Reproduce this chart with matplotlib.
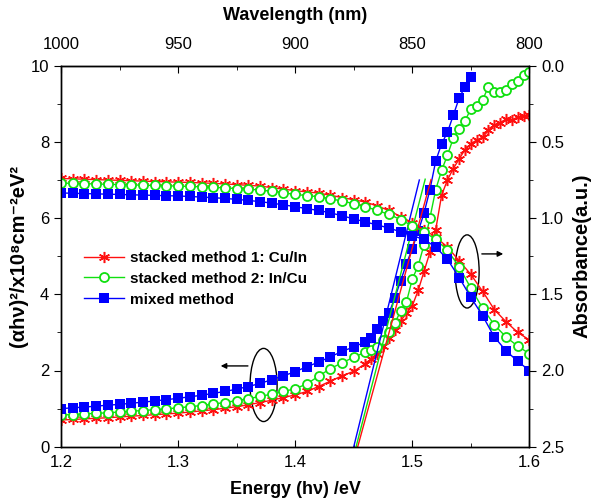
import numpy as np
import matplotlib.pyplot as plt
from matplotlib.patches import Ellipse

plt.rcParams['font.family'] = ['Liberation Sans', 'DejaVu Sans']

# Tauc plot data, (alpha h nu)^2 in 1e8 cm^-2 eV^2
e_flat = [1.20, 1.21, 1.22, 1.23, 1.24, 1.25, 1.26, 1.27, 1.28, 1.29,
          1.30, 1.31, 1.32, 1.33, 1.34, 1.35, 1.36, 1.37, 1.38, 1.39,
          1.40, 1.41, 1.42, 1.43, 1.44, 1.45, 1.46]
e_steep = [1.465, 1.47, 1.475, 1.48, 1.485, 1.49, 1.495, 1.50, 1.505, 1.51,
           1.515, 1.52, 1.525, 1.53, 1.535, 1.54, 1.545, 1.55, 1.555, 1.56,
           1.565, 1.57, 1.575, 1.58, 1.585, 1.59, 1.595, 1.60]
energy_tauc = e_flat + e_steep

tauc_stack1 = [0.70, 0.715, 0.73, 0.745, 0.76, 0.78, 0.80, 0.82, 0.84, 0.86,
               0.88, 0.91, 0.94, 0.97, 1.01, 1.05, 1.10, 1.16, 1.22, 1.29,
               1.36, 1.45, 1.58, 1.72, 1.86, 1.98, 2.18,
               2.30, 2.42, 2.65, 2.85, 3.05, 3.30, 3.50, 3.70, 4.10, 4.60,
               5.10, 5.70, 6.60, 7.00, 7.30, 7.55, 7.80, 7.95, 8.05, 8.12,
               8.30, 8.44, 8.50, 8.60, 8.58, 8.65, 8.68, 8.70]
tauc_stack2 = [0.83, 0.845, 0.86, 0.875, 0.89, 0.91, 0.93, 0.95, 0.97, 0.995,
               1.02, 1.05, 1.08, 1.12, 1.16, 1.21, 1.26, 1.32, 1.38, 1.45,
               1.52, 1.65, 1.85, 2.05, 2.20, 2.35, 2.48,
               2.55, 2.62, 2.80, 3.00, 3.25, 3.55, 3.80, 4.40, 4.75, 5.30,
               6.00, 6.75, 7.25, 7.65, 8.10, 8.35, 8.55, 8.87, 8.95, 9.10,
               9.45, 9.30, 9.30, 9.35, 9.52, 9.60, 9.75, 9.83]
tauc_mixed = [1.00, 1.02, 1.04, 1.065, 1.09, 1.11, 1.14, 1.17, 1.20, 1.235,
              1.27, 1.31, 1.35, 1.40, 1.45, 1.51, 1.58, 1.66, 1.76, 1.86,
              1.97, 2.10, 2.22, 2.36, 2.50, 2.62, 2.75,
              2.85, 3.10, 3.30, 3.50, 3.90, 4.35, 4.80, 5.20, 5.65, 6.13,
              6.74, 7.50, 7.95, 8.25, 8.70, 9.15, 9.45, 9.70]

# linear fits to the absorption edge: (intercept energy, end energy, slope)
fit_mixed = (1.450, 1.506, 125)
fit_stack2 = (1.452, 1.511, 119)
fit_stack1 = (1.4534, 1.516, 112)

# Absorbance data (right axis)
energy_abs = [1.20, 1.21, 1.22, 1.23, 1.24, 1.25, 1.26, 1.27, 1.28, 1.29,
              1.30, 1.31, 1.32, 1.33, 1.34, 1.35, 1.36, 1.37, 1.38, 1.39,
              1.40, 1.41, 1.42, 1.43, 1.44, 1.45, 1.46, 1.47, 1.48, 1.49,
              1.50, 1.51, 1.52, 1.53, 1.54, 1.55, 1.56, 1.57, 1.58, 1.59, 1.60]
abs_stack1 = [0.740, 0.742, 0.745, 0.747, 0.750, 0.752, 0.755, 0.757, 0.760, 0.762,
              0.764, 0.766, 0.769, 0.772, 0.776, 0.780, 0.785, 0.790, 0.800, 0.810,
              0.820, 0.828, 0.836, 0.850, 0.865, 0.880, 0.895, 0.920, 0.950, 0.990,
              1.030, 1.075, 1.125, 1.190, 1.280, 1.370, 1.480, 1.600, 1.680, 1.750, 1.800]
abs_stack2 = [0.770, 0.772, 0.774, 0.776, 0.778, 0.780, 0.782, 0.784, 0.786, 0.788,
              0.790, 0.792, 0.795, 0.798, 0.802, 0.806, 0.810, 0.816, 0.824, 0.834,
              0.845, 0.852, 0.860, 0.873, 0.888, 0.905, 0.925, 0.950, 0.975, 1.010,
              1.050, 1.090, 1.140, 1.210, 1.320, 1.460, 1.590, 1.700, 1.780, 1.840, 1.890]
abs_mixed = [0.835, 0.837, 0.839, 0.841, 0.843, 0.845, 0.847, 0.849, 0.851, 0.853,
             0.855, 0.858, 0.862, 0.866, 0.871, 0.877, 0.884, 0.892, 0.902, 0.913,
             0.925, 0.938, 0.950, 0.965, 0.985, 1.005, 1.025, 1.045, 1.065, 1.090,
             1.115, 1.140, 1.190, 1.270, 1.390, 1.520, 1.640, 1.780, 1.870, 1.940, 2.000]

labels = ['stacked method 1: Cu/In', 'stacked method 2: In/Cu', 'mixed method']
red, green, blue = '#ff1010', '#10e010', '#0000ff'
asterisk = (6, 2, 0)
style_red = dict(color=red, lw=1, marker=asterisk, ms=8, mew=1.1)
style_green = dict(color=green, lw=1, marker='o', ms=6.5, mfc='white', mew=1.3)
style_blue = dict(color=blue, lw=1, marker='s', ms=7, mew=0)

fig = plt.figure(figsize=(5.96, 5.0), dpi=100)
ax = fig.add_axes([0.1023, 0.1066, 0.786, 0.762])
ax2 = ax.twinx()

# Tauc curves
l1, = ax.plot(energy_tauc, tauc_stack1, label=labels[0], **style_red)
l2, = ax.plot(energy_tauc, tauc_stack2, label=labels[1], **style_green)
l3, = ax.plot(energy_tauc[:len(tauc_mixed)], tauc_mixed, label=labels[2], **style_blue)

for fit, c in [(fit_stack1, red), (fit_stack2, green), (fit_mixed, blue)]:
    e0, e1, k = fit
    ax.plot([e0, e1], [0, k * (e1 - e0)], color=c, lw=1)

# Absorbance curves
ax2.plot(energy_abs, abs_stack1, **style_red)
ax2.plot(energy_abs, abs_stack2, **style_green)
ax2.plot(energy_abs, abs_mixed, **style_blue)

ax.set_xlim(1.2, 1.6)
ax.set_ylim(0, 10)
ax2.set_ylim(2.5, 0.0)

ax.set_xticks([1.2, 1.3, 1.4, 1.5, 1.6])
ax.set_xticks([1.25, 1.35, 1.45, 1.55], minor=True)
ax.set_yticks([0, 2, 4, 6, 8, 10])
ax.set_yticks([1, 3, 5, 7, 9], minor=True)
ax2.set_yticks([0.0, 0.5, 1.0, 1.5, 2.0, 2.5])
ax2.set_yticks([0.25, 0.75, 1.25, 1.75, 2.25], minor=True)
ax2.set_yticklabels(['0.0', '0.5', '1.0', '1.5', '2.0', '2.5'])

ax.tick_params(axis='x', which='both', direction='in', labelsize=12, pad=6)
ax.tick_params(axis='x', which='major', length=5)
ax.tick_params(axis='x', which='minor', length=3)
ax.tick_params(axis='y', which='both', direction='out', labelsize=12)
ax.tick_params(axis='y', which='major', length=5)
ax.tick_params(axis='y', which='minor', length=3)
ax2.tick_params(axis='y', which='both', direction='out', labelsize=12)
ax2.tick_params(axis='y', which='major', length=5)
ax2.tick_params(axis='y', which='minor', length=3)

# top wavelength axis (linear scale as drawn in the original)
top = ax.secondary_xaxis('top', functions=(lambda e: 1000 - (e - 1.2) * 500,
                                           lambda w: 1.2 + (1000 - w) / 500))
top.set_xticks([1000, 950, 900, 850, 800])
top.set_xticks([975, 925, 875, 825], minor=True)
top.tick_params(which='both', direction='in', labelsize=12, pad=10)
top.tick_params(which='major', length=5)
top.tick_params(which='minor', length=3)
top.set_xlabel('Wavelength (nm)', fontsize=13, fontweight='bold', labelpad=12)

ax.set_xlabel('Energy (h\u03bd) /eV', fontsize=13, fontweight='bold', labelpad=8)
ax.set_ylabel('(\u03b1h\u03bd)\u00b2/x10\u2078cm\u207b\u00b2eV\u00b2', fontsize=14.5,
              fontweight='bold', labelpad=2)
ax2.set_ylabel('Absorbance(a.u.)', fontsize=14.5, fontweight='bold', labelpad=6)

for s in list(ax.spines.values()) + list(ax2.spines.values()):
    s.set_linewidth(1)

# guide ellipses with arrows
ax.add_patch(Ellipse((1.373, 1.62), 0.0231, 1.92, fill=False, ec='black', lw=1))
ax.annotate('', xy=(1.334, 2.12), xytext=(1.362, 2.12),
            arrowprops=dict(arrowstyle='-|>', color='black', lw=1, mutation_scale=8))
ax.add_patch(Ellipse((1.5468, 4.60), 0.0205, 1.92, fill=False, ec='black', lw=1))
ax.annotate('', xy=(1.580, 5.06), xytext=(1.557, 5.06),
            arrowprops=dict(arrowstyle='-|>', color='black', lw=1, mutation_scale=8))

leg = ax.legend(handles=[l1, l2, l3], loc='upper left', bbox_to_anchor=(0.02, 0.55),
                frameon=False, prop={'weight': 'bold', 'size': 11},
                handlelength=2.6, labelspacing=0.45, handletextpad=0.4)

fig.savefig('out.png', dpi=100)
